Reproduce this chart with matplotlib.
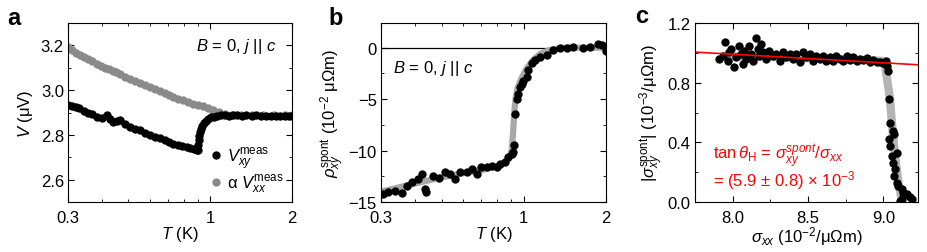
import numpy as np
import matplotlib
matplotlib.use("Agg")
import matplotlib.pyplot as plt
from matplotlib.ticker import FixedLocator, NullFormatter, MultipleLocator

plt.rcParams.update({
    "font.family": "Liberation Sans",
    "font.size": 12,
    "mathtext.fontset": "custom",
    "mathtext.rm": "Liberation Sans",
    "mathtext.it": "Liberation Sans:italic",
    "mathtext.bf": "Liberation Sans:bold",
    "xtick.direction": "in",
    "ytick.direction": "in",
    "xtick.top": True,
    "ytick.right": True,
    "xtick.major.size": 4,
    "ytick.major.size": 4,
    "xtick.minor.size": 2,
    "ytick.minor.size": 2,
    "axes.linewidth": 0.8,
})

# ---- panel a : V vs T ----
T_xy = [0.300, 0.310, 0.320, 0.330, 0.342, 0.355, 0.368, 0.383, 0.400, 0.417,
        0.428, 0.440, 0.453, 0.467, 0.487, 0.508, 0.530, 0.553, 0.577, 0.601,
        0.627, 0.654, 0.680, 0.705, 0.732, 0.760, 0.790, 0.820, 0.845, 0.870,
        0.892, 0.900, 0.904, 0.908, 0.912, 0.918, 0.926, 0.935, 0.950, 0.965,
        0.985, 1.005, 1.030, 1.060, 1.095, 1.130, 1.170, 1.210, 1.260, 1.310,
        1.360, 1.420, 1.480, 1.540, 1.600, 1.670, 1.740, 1.810, 1.880, 1.950,
        2.000]
V_xy = [2.935, 2.930, 2.926, 2.918, 2.905, 2.898, 2.892, 2.882, 2.875, 2.887,
        2.872, 2.858, 2.862, 2.865, 2.850, 2.836, 2.828, 2.820, 2.810, 2.799,
        2.792, 2.784, 2.775, 2.768, 2.761, 2.755, 2.750, 2.747, 2.740, 2.736,
        2.732, 2.734, 2.754, 2.776, 2.795, 2.813, 2.828, 2.840, 2.852, 2.862,
        2.870, 2.878, 2.882, 2.886, 2.887, 2.888, 2.886, 2.887, 2.888, 2.886,
        2.887, 2.886, 2.887, 2.885, 2.886, 2.884, 2.886, 2.885, 2.884, 2.886,
        2.885]

T_xx = [0.300, 0.310, 0.320, 0.331, 0.342, 0.355, 0.368, 0.383, 0.398, 0.412,
        0.426, 0.440, 0.452, 0.467, 0.487, 0.508, 0.530, 0.553, 0.577, 0.601,
        0.627, 0.654, 0.680, 0.705, 0.732, 0.760, 0.796, 0.830, 0.865, 0.900,
        0.940, 0.985, 1.026, 1.075, 1.130, 1.200, 1.300, 1.420, 1.560, 1.720,
        1.880, 2.000]
V_xx = [3.191, 3.180, 3.168, 3.158, 3.147, 3.137, 3.128, 3.117, 3.108, 3.100,
        3.094, 3.087, 3.082, 3.070, 3.060, 3.050, 3.040, 3.031, 3.022, 3.013,
        3.004, 2.995, 2.986, 2.978, 2.970, 2.962, 2.954, 2.946, 2.940, 2.935,
        2.927, 2.918, 2.910, 2.902, 2.895, 2.891, 2.889, 2.888, 2.888, 2.887,
        2.887, 2.887]

# ---- panel b : rho_xy spont vs T ----
T_rho = [0.306, 0.319, 0.337, 0.357, 0.372, 0.389, 0.411, 0.423, 0.435, 0.440,
         0.467, 0.490, 0.513, 0.537, 0.560, 0.584, 0.618, 0.644, 0.672, 0.700,
         0.731, 0.763, 0.796, 0.818, 0.853, 0.877, 0.902, 0.915, 0.919, 0.927,
         0.942, 0.955, 0.968, 0.982, 0.995, 1.024, 1.038, 1.068, 1.099, 1.146,
         1.212, 1.282, 1.357, 1.436, 1.520, 1.654, 1.750, 1.875, 1.928, 2.000]
rho = [-14.18, -14.02, -13.92, -14.10, -13.43, -13.04, -12.78, -12.29, -13.76, -14.00,
       -12.46, -12.62, -12.13, -12.29, -12.78, -12.13, -12.13, -11.80, -12.29, -11.64,
       -11.64, -11.48, -11.64, -11.31, -11.15, -10.66, -10.34, -10.17, -9.50, -6.40,
       -5.00, -4.50, -3.80, -3.50, -3.20, -2.80, -2.20, -1.50, -1.20, -0.90,
       -0.70, -0.20, -0.07, 0.00, 0.10, 0.00, 0.10, 0.33, 0.27, -0.33]

T_rho_fit = [0.30, 0.40, 0.50, 0.60, 0.70, 0.80, 0.86, 0.89, 0.905, 0.915,
             0.925, 0.935, 0.95, 0.98, 1.02, 1.08, 1.15, 1.25, 1.40, 1.60, 2.00]
rho_fit = [-14.0, -13.2, -12.6, -12.2, -11.9, -11.5, -11.1, -10.6, -9.8, -8.0,
           -6.0, -4.8, -3.9, -3.0, -2.1, -1.2, -0.6, -0.2, 0.0, 0.0, 0.0]

# ---- panel c : |sigma_xy spont| vs sigma_xx ----
sxx = [7.911, 7.933, 7.949, 7.967, 7.978, 7.989, 8.011, 8.022, 8.044, 8.056,
       8.067, 8.078, 8.089, 8.111, 8.122, 8.133, 8.156, 8.167, 8.178, 8.189,
       8.200, 8.222, 8.244, 8.267, 8.289, 8.311, 8.333, 8.356, 8.378, 8.400,
       8.422, 8.444, 8.467, 8.489, 8.511, 8.533, 8.556, 8.578, 8.600, 8.622,
       8.644, 8.667, 8.689, 8.711, 8.733, 8.756, 8.778, 8.800, 8.822, 8.844,
       8.867, 8.889, 8.911, 8.933, 8.956, 8.978, 9.000, 9.018, 9.027, 9.033,
       9.040, 9.044, 9.062, 9.071, 9.036, 9.044, 9.089, 9.056, 9.067, 9.078,
       9.071, 9.089, 9.100, 9.122, 9.133, 9.156, 9.178, 9.189, 9.122, 9.111]
sxy = [0.958, 0.981, 1.075, 0.947, 1.003, 1.025, 0.902, 0.969, 1.048, 0.992,
       0.925, 1.014, 0.958, 1.048, 0.992, 0.947, 1.097, 1.025, 0.981, 1.059,
       1.003, 0.958, 1.014, 0.981, 0.992, 0.947, 1.003, 0.969, 0.992, 0.958,
       0.992, 0.936, 1.003, 0.969, 0.992, 0.947, 0.981, 0.958, 0.981, 0.947,
       0.969, 0.947, 0.981, 0.958, 0.947, 0.976, 0.954, 0.969, 0.947, 0.958,
       0.954, 0.963, 0.940, 0.954, 0.936, 0.940, 0.931, 0.947, 0.913, 0.880,
       0.690, 0.533, 0.477, 0.454, 0.420, 0.376, 0.331, 0.309, 0.264, 0.219,
       0.175, 0.130, 0.107, 0.085, 0.063, 0.051, 0.036, 0.018, 0.018, 0.004]

sxx_fit = [7.92, 8.20, 8.50, 8.80, 9.00, 9.011, 9.022, 9.044, 9.062, 9.078, 9.100, 9.122]
sxy_fit = [0.975, 0.975, 0.965, 0.955, 0.945, 0.913, 0.846, 0.690, 0.466, 0.309, 0.130, 0.018]

sxx_line = [7.75, 9.23]
sxy_line = [1.005, 0.920]

fig = plt.figure(figsize=(9.27, 2.53), dpi=100)
axa = fig.add_axes([0.0734, 0.1976, 0.2416, 0.7075])
axb = fig.add_axes([0.4110, 0.1976, 0.2427, 0.7075])
axc = fig.add_axes([0.7497, 0.1976, 0.2406, 0.7075])

# panel a
axa.plot(T_xx, V_xx, "o", color="#8a8a8a", ms=6, mec="none", label=r"α $V_{xx}^{\rm meas}$")
axa.plot(T_xy, V_xy, "o", color="black", ms=6, mec="none", label=r"$V_{xy}^{\rm meas}$")
axa.set_xscale("log")
axa.set_xlim(0.3, 2)
axa.set_ylim(2.5, 3.3)
axa.xaxis.set_major_locator(FixedLocator([0.3, 1, 2]))
axa.set_xticklabels(["0.3", "1", "2"])
axa.xaxis.set_minor_locator(FixedLocator([0.4, 0.5, 0.6, 0.7, 0.8, 0.9]))
axa.xaxis.set_minor_formatter(NullFormatter())
axa.yaxis.set_major_locator(FixedLocator([2.6, 2.8, 3.0, 3.2]))
axa.yaxis.set_minor_locator(MultipleLocator(0.1))
axa.set_xlabel(r"$T$ (K)", labelpad=-1)
axa.set_ylabel(r"$V$ (μV)", labelpad=4)
axa.text(0.93, 0.877, r"$B$ = 0, $j$ || $c$", transform=axa.transAxes,
         ha="right", va="center")
h, l = axa.get_legend_handles_labels()
axa.legend(h[::-1], l[::-1], loc="lower left", bbox_to_anchor=(0.63, 0.04),
           frameon=False, handlelength=0.8, handletextpad=0.3,
           labelspacing=0.05, borderpad=0, borderaxespad=0)

# panel b
axb.axhline(0, color="black", lw=0.9)
axb.plot(T_rho_fit, rho_fit, "-", color="#a8a8a8", lw=4.5, solid_capstyle="butt")
axb.plot(T_rho, rho, "o", color="black", ms=6, mec="none")
axb.set_xscale("log")
axb.set_xlim(0.3, 2)
axb.set_ylim(-15, 2.4)
axb.xaxis.set_major_locator(FixedLocator([0.3, 1, 2]))
axb.set_xticklabels(["0.3", "1", "2"])
axb.xaxis.set_minor_locator(FixedLocator([0.4, 0.5, 0.6, 0.7, 0.8, 0.9]))
axb.xaxis.set_minor_formatter(NullFormatter())
axb.yaxis.set_major_locator(FixedLocator([-15, -10, -5, 0]))
axb.yaxis.set_minor_locator(MultipleLocator(2.5))
axb.set_xlabel(r"$T$ (K)", labelpad=-1)
axb.set_ylabel(r"$\rho_{xy}^{\rm spont}$ (10$^{-2}$ μΩm)", labelpad=1)
axb.text(0.053, 0.754, r"$B$ = 0, $j$ || $c$", transform=axb.transAxes,
         ha="left", va="center")

# panel c
axc.plot(sxx_fit, sxy_fit, "-", color="#b4b4b4", lw=6, solid_capstyle="butt")
axc.plot(sxx, sxy, "o", color="black", ms=6, mec="none")
axc.plot(sxx_line, sxy_line, "-", color="red", lw=1.2)
axc.set_xlim(7.75, 9.23)
axc.set_ylim(0, 1.2)
axc.xaxis.set_major_locator(FixedLocator([8.0, 8.5, 9.0]))
axc.xaxis.set_minor_locator(MultipleLocator(0.25))
axc.yaxis.set_major_locator(FixedLocator([0.0, 0.4, 0.8, 1.2]))
axc.yaxis.set_minor_locator(MultipleLocator(0.2))
axc.set_xlabel(r"$\sigma_{xx}$ (10$^{-2}$/μΩm)", labelpad=-1)
axc.set_ylabel(r"|$\sigma_{xy}^{\rm spont}$| (10$^{-3}$/μΩm)", labelpad=1)
axc.text(0.08, 0.257, r"tan$\,\theta_{\rm H}$ = $\sigma_{xy}^{spont}$/$\sigma_{xx}$",
         transform=axc.transAxes, color="red", ha="left", va="center")
axc.text(0.08, 0.128, r"= (5.9 ± 0.8) × 10$^{-3}$",
         transform=axc.transAxes, color="red", ha="left", va="center")

for ax in (axa, axb, axc):
    ax.tick_params(axis="y", which="both", pad=3)
    ax.tick_params(axis="x", which="both", pad=6)

fig.text(7 / 927, 1 - 25 / 253, "a", fontsize=17, fontweight="bold", va="baseline")
fig.text(328 / 927, 1 - 25 / 253, "b", fontsize=17, fontweight="bold", va="baseline")
fig.text(635 / 927, 1 - 23 / 253, "c", fontsize=17, fontweight="bold", va="baseline")

fig.savefig("out.png", dpi=100)
